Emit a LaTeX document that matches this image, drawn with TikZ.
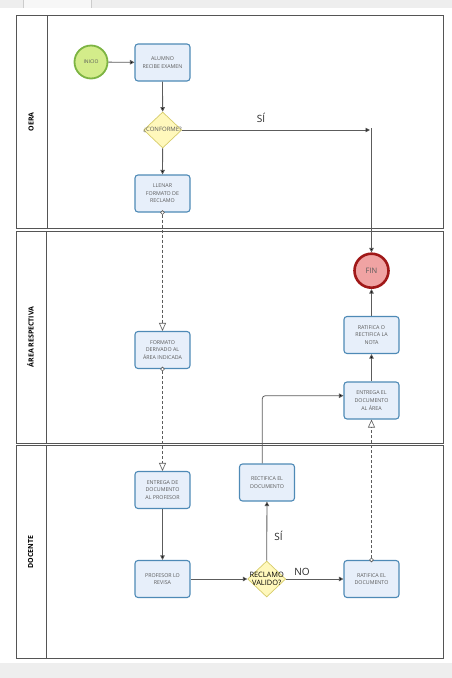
\documentclass[tikz,border=0pt]{standalone}
\usepackage{fontspec}
\setmainfont{Open Sans}
\setsansfont{Open Sans}
\usetikzlibrary{arrows.meta,shapes.geometric,calc}
\definecolor{taskfill}{HTML}{E7EFFA}
\definecolor{taskdraw}{HTML}{4E8AB6}
\definecolor{tasktext}{HTML}{5A5A5A}
\definecolor{startfill}{HTML}{D3EC8A}
\definecolor{startdraw}{HTML}{7DB443}
\definecolor{endfill}{HTML}{F0A3A3}
\definecolor{enddraw}{HTML}{A01818}
\definecolor{gatefill}{HTML}{FFF8BC}
\definecolor{gatedraw}{HTML}{D6CC6A}
\definecolor{lanedraw}{HTML}{555555}
\definecolor{flowcol}{HTML}{5C5C5C}
\definecolor{barcol}{HTML}{EEEEEE}
\tikzset{
  task/.style={rectangle, rounded corners=3pt, draw=taskdraw, fill=taskfill, line width=1.1pt,
    minimum width=55pt, minimum height=37pt, inner sep=1pt, align=center, text=tasktext,
    font=\fontsize{5.3}{7.6}\selectfont},
  gate/.style={diamond, draw=gatedraw, fill=gatefill, line width=0.7pt,
    minimum width=38pt, minimum height=36pt, inner sep=0pt},
  startev/.style={circle, draw=startdraw, fill=startfill, line width=1.8pt, minimum size=33pt,
    inner sep=0pt, text=tasktext, font=\fontsize{5}{6}\selectfont},
  endev/.style={circle, draw=enddraw, fill=endfill, line width=2.6pt, minimum size=34pt,
    inner sep=0pt, text=tasktext, font=\fontsize{7.5}{9}\selectfont},
  lane/.style={draw=lanedraw, line width=0.9pt},
  lanelabel/.style={rotate=90, font=\fontsize{7}{8}\selectfont\bfseries, text=black, inner sep=0pt},
  flow/.style={draw=flowcol, line width=0.8pt, -{Triangle[length=4.5pt,width=4.5pt,fill=black]}},
  msg/.style={draw=flowcol, line width=0.7pt, dash pattern=on 3pt off 2pt,
    {Circle[length=4.5pt,fill=white,line width=0.6pt,sep=-2.25pt]}-{Triangle[open,length=8pt,width=7pt,line width=0.6pt]}},
  flowlabel/.style={font=\fontsize{10}{12}\selectfont, text=black!85, inner sep=0pt},
}
\begin{document}
\begin{tikzpicture}[x=1pt,y=-1pt]
\useasboundingbox (0,0) rectangle (452,678);
% window bars
\fill[barcol] (0,0) rectangle (452,8);
\fill[white!97!black] (23,0) rectangle (91,8);
\draw[black!20] (23,8) -- (23,0) (91,0) -- (91,8);
\fill[barcol] (0,663) rectangle (452,678);
% lanes
\draw[lane] (16,15) rectangle (443,228);
\draw[lane] (47,15) -- (47,228);
\draw[lane] (16,231) rectangle (443,443);
\draw[lane] (46.5,231) -- (46.5,443);
\draw[lane] (16,445) rectangle (443,658);
\draw[lane] (46.5,445) -- (46.5,658);
\node[lanelabel] (l1) at (31,122) {OERA};
\node[lanelabel] (l2) at (30.5,337) {ÁREA RESPECTIVA};
\node[lanelabel] (l3) at (30.5,552) {DOCENTE};
% nodes
\node[startev] (ini) at (91,62) {INICIO};
\node[task] (alu) at (162.5,62.5) {ALUMNO\\RECIBE EXAMEN};
\node[gate] (conf) at (162.7,130) {};
\node[font=\fontsize{6}{7}\selectfont, text=tasktext, inner sep=0pt] (confl) at (162.7,130) {¿CONFORME?};
\node[task] (llen) at (162.5,193.5) {LLENAR\\FORMATO DE\\RECLAMO};
\node[endev] (fin) at (371.5,270.7) {FIN};
\node[task] (rat2) at (371.5,335) {RATIFICA O\\RECTIFICA LA\\NOTA};
\node[task] (ent2) at (371.5,400.5) {ENTREGA EL\\DOCUMENTO\\AL ÁREA};
\node[task] (form) at (162.5,350) {FORMATO\\DERIVADO AL\\ÁREA INDICADA};
\node[task] (ent1) at (162.5,490) {ENTREGA DE\\DOCUMENTO\\AL PROFESOR};
\node[task] (prof) at (162.5,579) {PROFESOR LO\\REVISA};
\node[task] (rect) at (267,482.5) {RECTIFICA EL\\DOCUMENTO};
\node[gate] (recl) at (266.7,579) {};
\node[font=\fontsize{7.4}{8}\selectfont, text=black, align=center, inner sep=0pt] (recll) at (266.7,579) {RECLAMO\\VALIDO?};
\node[task] (rat1) at (371.5,579) {RATIFICA EL\\DOCUMENTO};
\coordinate (ja) at (370,130);
\coordinate (jb) at (371.5,128);
% labels
\node[flowlabel] (si1) at (261,118) {SÍ};
\node[flowlabel] (si2) at (278.5,536) {SÍ};
\node[flowlabel] (no) at (302,572) {NO};
% flows
\draw[flow] (ini) -- (alu);
\draw[flow] (alu) -- (conf);
\draw[flow] (conf) -- (llen);
\draw[flow] (conf.east) -- (ja);
\draw[flow] (jb) -- (fin);
\draw[flow] (rat2) -- (fin);
\draw[flow] (ent2) -- (rat2);
\draw[flow] (ent1) -- (prof);
\draw[flow] (prof) -- (recl);
\draw[flow] (recl) -- (rect);
\draw[flow] (recl) -- (rat1);
\draw[flow, rounded corners=3pt] ([xshift=-4.7pt]rect.north) |- ([yshift=4.8pt]ent2.west);
\draw[msg] (llen.south) -- (form.north);
\draw[msg] (form.south) -- (ent1.north);
\draw[msg] (rat1.north) -- (ent2.south);
\end{tikzpicture}
\end{document}
